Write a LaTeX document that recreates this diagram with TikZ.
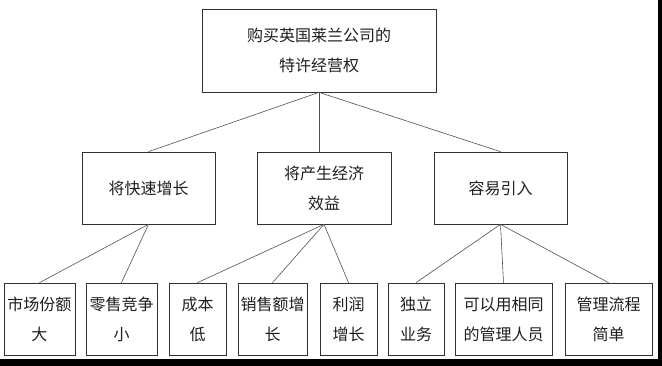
\documentclass[tikz,border=0pt]{standalone}
\usepackage{fontspec}
\newfontfamily\cjk{Noto Sans CJK SC}
\usetikzlibrary{positioning}
\definecolor{lineGrey}{HTML}{505050}
\definecolor{boxGrey}{HTML}{303030}
\definecolor{textDark}{HTML}{1E1E1E}

\begin{document}
\begin{tikzpicture}[x=1pt,y=-1pt,
          every node/.style={font=\cjk\fontsize{16}{30}\selectfont,
                             text=textDark,align=center},
          box/.style={draw=boxGrey,line width=0.7pt,inner sep=0pt,
                      minimum height=72},
          link/.style={draw=lineGrey,line width=0.6pt},
        ]
        \useasboundingbox (0,0) rectangle (662,366);
        % top goal
        \node[box,minimum width=234,minimum height=83] (goal) at (319,50.5)
              {购买英国莱兰公司的\\特许经营权};
        % reasons
        \node[box,minimum width=133] (fast) at (148.5,188) {将快速增长};
        \node[box,minimum width=134] (econ) at (324,188) {将产生经济\\效益};
        \node[box,minimum width=133] (easy) at (500.5,188) {容易引入};
        % details
        \node[box,minimum width=71] (share) at (39.5,319) {市场份额\\大};
        \node[box,minimum width=71] (comp) at (121.5,319) {零售竞争\\小};
        \node[box,minimum width=57] (cost) at (197.5,319) {成本\\低};
        \node[box,minimum width=69] (sales) at (272.5,319) {销售额增\\长};
        \node[box,minimum width=57] (profit) at (348.5,319) {利润\\增长};
        \node[box,minimum width=56] (indep) at (416,319) {独立\\业务};
        \node[box,minimum width=97] (staff) at (503.5,319) {可以用相同\\的管理人员};
        \node[box,minimum width=87] (flow) at (608.5,319) {管理流程\\简单};
        % connectors
        \draw[link] (goal.south) -- (fast.north);
        \draw[link] (goal.south) -- (goal.south |- econ.north);
        \draw[link] (goal.south) -- (easy.north);
        \foreach \n in {share,comp}
          \draw[link] (fast.south) -- (\n.north);
        \foreach \n in {cost,sales,profit}
          \draw[link] (econ.south) -- (\n.north);
        \foreach \n in {indep,staff,flow}
          \draw[link] (easy.south) -- (\n.north);
        % dark edges of the scan
        \fill[black] (658,0) rectangle (662,366);
        \fill[black] (0,359) rectangle (662,366);
      \end{tikzpicture}
\end{document}
